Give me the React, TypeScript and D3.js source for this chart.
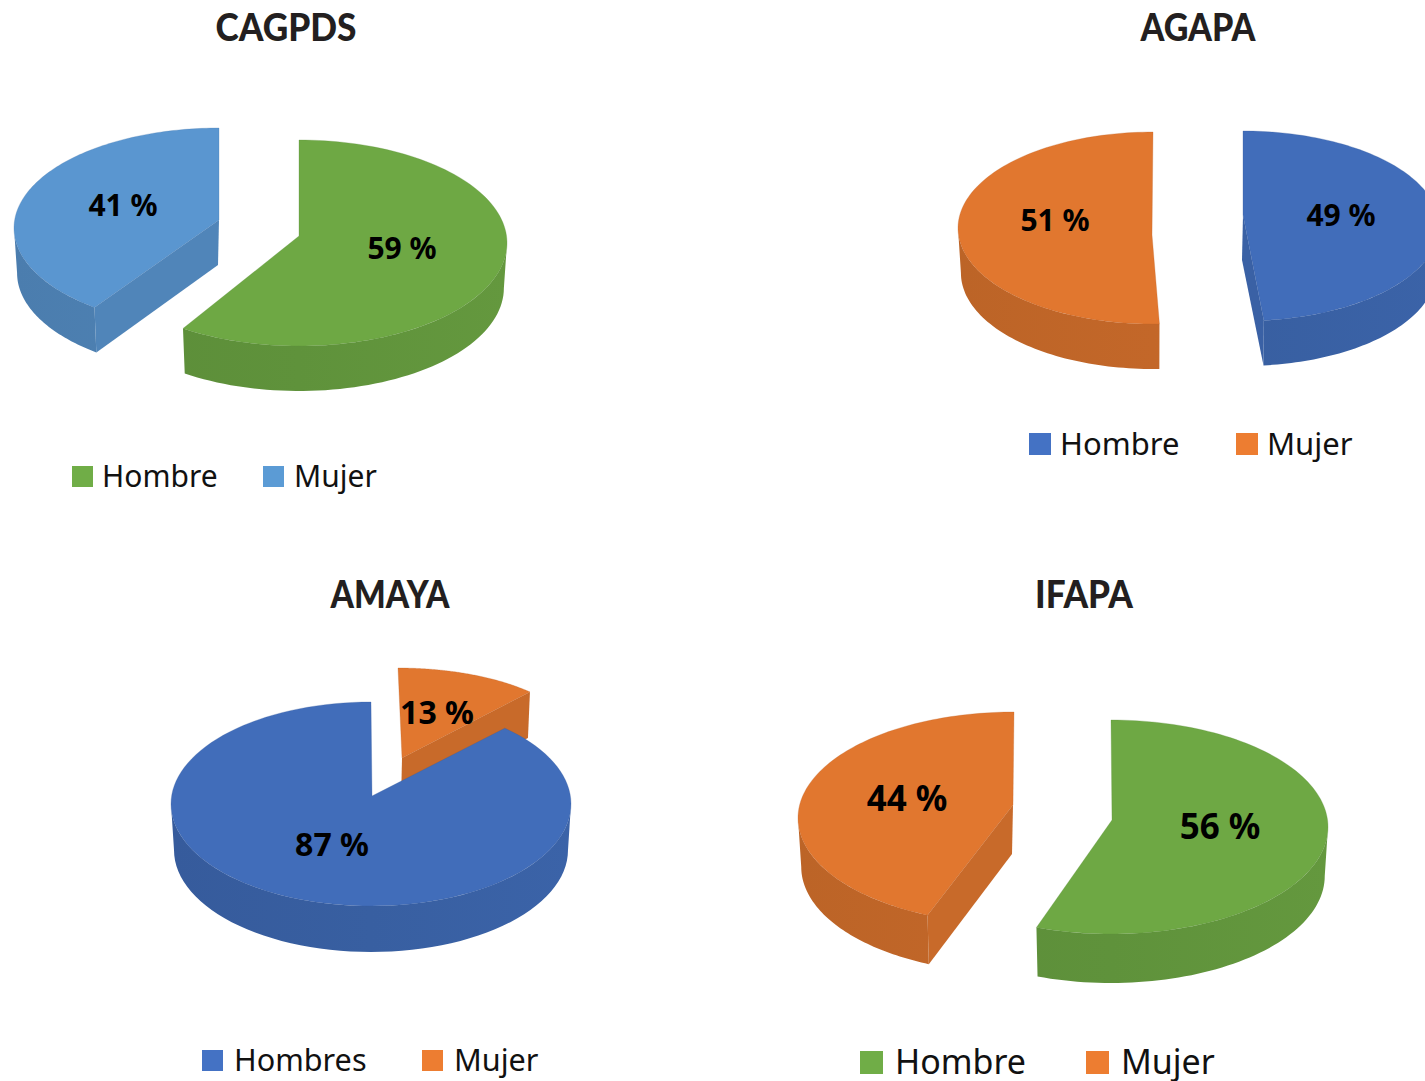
import React from 'react';
import * as d3 from 'd3';

// values, percent
const cagpdsLabels = ['Hombre', 'Mujer'];
const cagpdsValues = [59, 41];
const agapaLabels = ['Hombre', 'Mujer'];
const agapaValues = [49, 51];
const amayaLabels = ['Hombres', 'Mujer'];
const amayaValues = [87, 13];
const ifapaLabels = ['Hombre', 'Mujer'];
const ifapaValues = [56, 44];

const GREEN = '#6ea844';
const LIGHT_BLUE = '#5a96d0';
const BLUE = '#416dba';
const ORANGE = '#e1772f';
// the legend swatches are a little brighter than the shaded pie tops
const legendColor: Record<string, string> = {
  [GREEN]: '#70ad47',
  [LIGHT_BLUE]: '#5b9bd5',
  [BLUE]: '#4472c4',
  [ORANGE]: '#ed7d31',
};
const TAU = Math.PI * 2;
const RAD = Math.PI / 180;

// ax, ay is the tip of the wedge, the chart's 3d perspective pushes it off the ellipse centre.
// startShift, endShift are the same perspective error on the cut edges, in degrees.
type Wedge = { cx: number; cy: number; rx: number; ry: number; ax: number; ay: number; startShift?: number; endShift?: number };
type PieConfig = {
  id: string;
  title: string;
  titleX: number;
  titleY: number;
  titleWidth: number;
  labels: string[];
  values: number[];
  colors: string[];
  rotation: number; // degrees clockwise from 12 o'clock for the first slice
  depth: number;
  wedges: Wedge[];
  textPos: [number, number][];
  textSize: number;
  legendY: number;
  legendSwatch: number;
  legendSwatchX: number[];
  legendTextX: number[];
  legendSize: number;
};

const pies: PieConfig[] = [
  {
    id: 'cagpds', title: 'CAGPDS', titleX: 286, titleY: 41, titleWidth: 141,
    labels: cagpdsLabels, values: cagpdsValues, colors: [GREEN, LIGHT_BLUE],
    rotation: 0, depth: 45,
    wedges: [
      { cx: 299, cy: 243, rx: 208, ry: 103, ax: 299, ay: 236, endShift: 1.5 },
      { cx: 219, cy: 228, rx: 205, ry: 100, ax: 219, ay: 220, startShift: 5 },
    ],
    textPos: [[402, 248], [123, 205]], textSize: 30,
    legendY: 466, legendSwatch: 21, legendSwatchX: [72, 263], legendTextX: [102, 294], legendSize: 30,
  },
  {
    id: 'agapa', title: 'AGAPA', titleX: 1198, titleY: 41, titleWidth: 115,
    labels: agapaLabels, values: agapaValues, colors: [BLUE, ORANGE],
    rotation: 0, depth: 45,
    wedges: [
      { cx: 1243, cy: 226, rx: 196, ry: 95, ax: 1243, ay: 215, endShift: -2.5 },
      { cx: 1153, cy: 228, rx: 195, ry: 96, ax: 1152, ay: 235, startShift: 1.7 },
    ],
    textPos: [[1341, 215], [1055, 220]], textSize: 30,
    legendY: 433, legendSwatch: 22, legendSwatchX: [1029, 1236], legendTextX: [1060, 1267], legendSize: 31,
  },
  {
    id: 'amaya', title: 'AMAYA', titleX: 390, titleY: 608, titleWidth: 119,
    labels: amayaLabels, values: amayaValues, colors: [BLUE, ORANGE],
    rotation: 46.8, depth: 46,
    wedges: [
      { cx: 371, cy: 804, rx: 200, ry: 102, ax: 372, ay: 796, startShift: -4.8 },
      { cx: 398, cy: 744, rx: 181, ry: 76, ax: 402, ay: 758 },
    ],
    textPos: [[332, 844], [437, 712]], textSize: 32,
    legendY: 1050, legendSwatch: 21, legendSwatchX: [202, 422], legendTextX: [234, 454], legendSize: 30.6,
  },
  {
    id: 'ifapa', title: 'IFAPA', titleX: 1084, titleY: 608, titleWidth: 98,
    labels: ifapaLabels, values: ifapaValues, colors: [GREEN, ORANGE],
    rotation: 0, depth: 49,
    wedges: [
      { cx: 1111, cy: 827, rx: 217, ry: 107, ax: 1112, ay: 820, endShift: -1.5 },
      { cx: 1014, cy: 818, rx: 216, ry: 106, ax: 1013, ay: 805, startShift: 2 },
    ],
    textPos: [[1220, 826], [907, 798]], textSize: 35,
    legendY: 1051, legendSwatch: 23, legendSwatchX: [860, 1086], legendTextX: [895, 1121], legendSize: 34,
  },
];

const LABEL_FONT = '"Noto Sans", "Open Sans", sans-serif';
const TITLE_FONT = 'Lato, "Noto Sans", sans-serif';

function Slice({ w, start, end, color, depth, gid }: { w: Wedge; start: number; end: number; color: string; depth: number; gid: string }) {
  const a0 = start + (w.startShift ?? 0) * RAD;
  const a1 = end + (w.endShift ?? 0) * RAD;
  const shrink = 0.985; // the underside looks a bit smaller
  const px = (a: number) => w.cx + w.rx * Math.sin(a);
  const py = (a: number) => w.cy - w.ry * Math.cos(a);
  const qx = (a: number) => w.cx + w.rx * shrink * Math.sin(a);

  const wall = d3.area<number>().x0(px).x1(qx).y0(py).y1((a) => py(a) + depth);

  // rim is only seen on the front half, between 90 and 270 degrees
  const walls: string[] = [];
  [[a0, a1], [a0 - TAU, a1 - TAU]].forEach(([s, e]) => {
    const from = Math.max(s, Math.PI / 2);
    const to = Math.min(e, (3 * Math.PI) / 2);
    if (to > from) {
      const steps = d3.range(0, 61).map((i) => from + ((to - from) * i) / 60);
      walls.push(wall(steps) as string);
    }
  });

  const face = (a: number) =>
    d3.line()([
      [w.ax, w.ay],
      [px(a), py(a)],
      [qx(a), py(a) + depth],
      [w.ax - 1, w.ay + depth],
    ]) + 'Z';

  const base = d3.color(color)!;
  const faces: string[] = [];
  if (Math.sin(a0) < -1e-6) faces.push(face(a0));
  if (Math.sin(a1) > 1e-6) faces.push(face(a1));

  const rim = d3.range(0, 121).map((i) => {
    const a = a0 + ((a1 - a0) * i) / 120;
    return [px(a), py(a)] as [number, number];
  });
  const top = d3.line()([[w.ax, w.ay], ...rim]) + 'Z';

  return (
    <g>
      <defs>
        <linearGradient id={gid} gradientUnits="userSpaceOnUse" x1={w.cx - w.rx} x2={w.cx + w.rx} y1={0} y2={0}>
          <stop offset="0" stopColor={base.darker(0.5).formatHex()} />
          <stop offset="0.5" stopColor={base.darker(0.4).formatHex()} />
          <stop offset="1" stopColor={base.darker(0.28).formatHex()} />
        </linearGradient>
      </defs>
      {faces.map((d, i) => <path key={i} d={d} fill={base.darker(0.33).formatHex()} />)}
      {walls.map((d, i) => <path key={i} d={d} fill={`url(#${gid})`} />)}
      <path d={top} fill={color} stroke={base.darker(0.5).formatHex()} strokeOpacity={0.35} strokeWidth={0.8} />
    </g>
  );
}

function Pie3D({ cfg }: { cfg: PieConfig }) {
  const r0 = cfg.rotation * RAD;
  const arcs = d3.pie<number>().sort(null).startAngle(r0).endAngle(r0 + TAU)(cfg.values);
  return (
    <g>
      <text
        x={cfg.titleX} y={cfg.titleY} textAnchor="middle" fontFamily={TITLE_FONT} fontWeight={900} fontSize={37}
        fill="#231f20" textLength={cfg.titleWidth} lengthAdjust="spacingAndGlyphs"
      >
        {cfg.title}
      </text>
      {/* last slice first so the big one covers it, AMAYA needs this */}
      {arcs.map((a, i) => ({ a, i })).reverse().map(({ a, i }) => (
        <Slice key={i} w={cfg.wedges[i]} start={a.startAngle} end={a.endAngle} color={cfg.colors[i]} depth={cfg.depth} gid={`${cfg.id}-${i}`} />
      ))}
      {cfg.values.map((v, i) => (
        <text key={i} x={cfg.textPos[i][0]} y={cfg.textPos[i][1]} dy="0.36em" textAnchor="middle" fontFamily={LABEL_FONT} fontWeight={700} fontSize={cfg.textSize} fill="#000">
          {`${v} %`}
        </text>
      ))}
      {cfg.labels.map((l, i) => (
        <g key={l}>
          <rect x={cfg.legendSwatchX[i]} y={cfg.legendY} width={cfg.legendSwatch} height={cfg.legendSwatch} fill={legendColor[cfg.colors[i]]} />
          <text x={cfg.legendTextX[i]} y={cfg.legendY + cfg.legendSwatch / 2} dy="0.34em" fontFamily={LABEL_FONT} fontSize={cfg.legendSize} fill="#111">
            {l}
          </text>
        </g>
      ))}
    </g>
  );
}

export default function App() {
  return (
    <svg width={1425} height={1081} style={{ position: 'absolute', left: 0, top: 0, background: '#fff' }}>
      {pies.map((p) => <Pie3D key={p.id} cfg={p} />)}
    </svg>
  );
}
